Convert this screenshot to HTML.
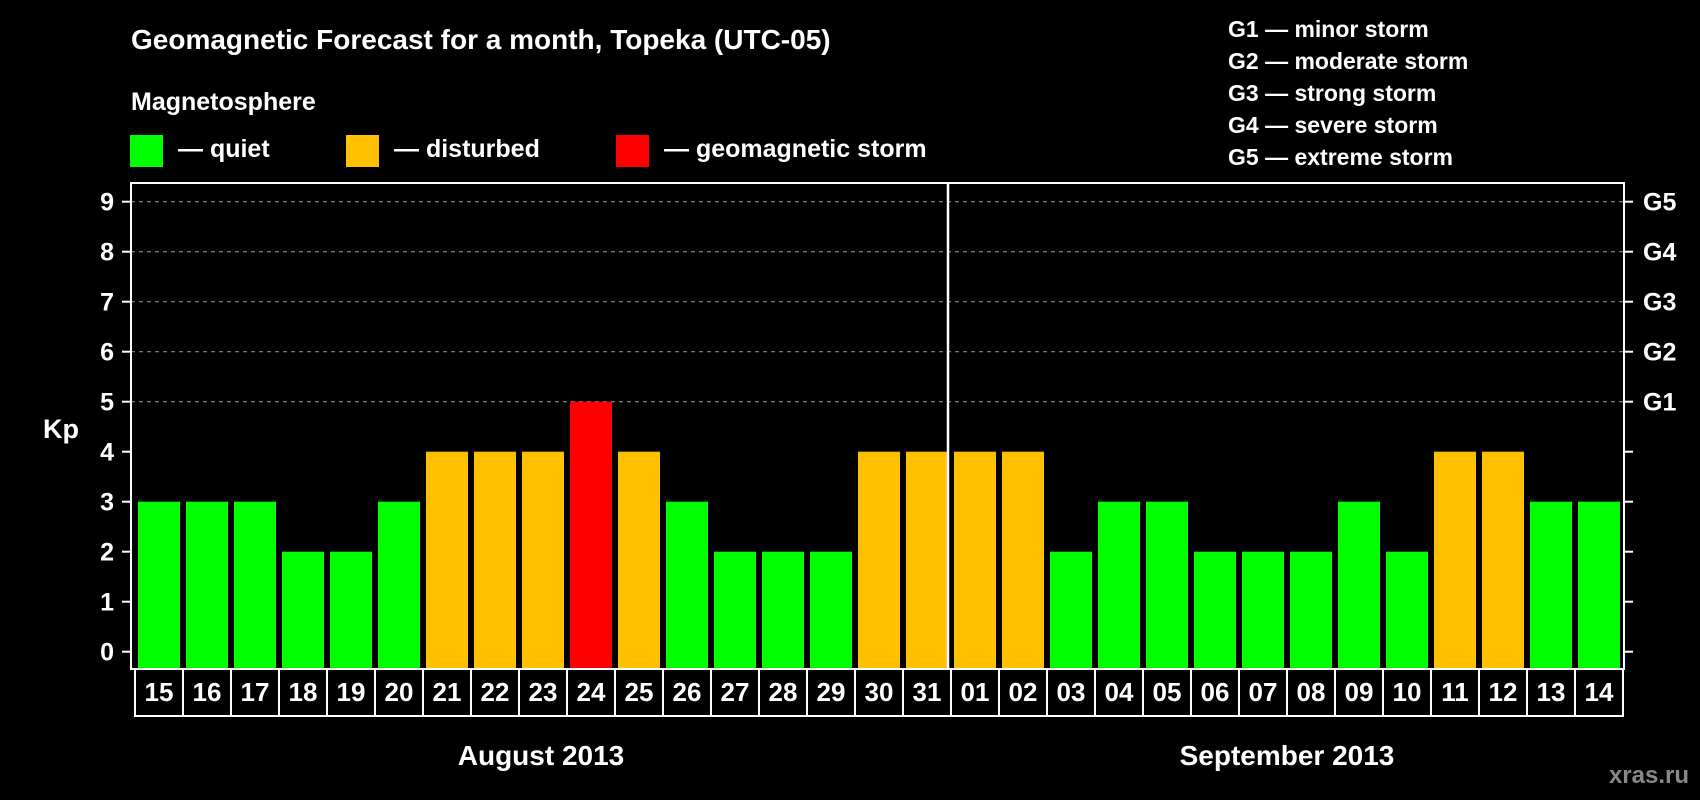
<!DOCTYPE html>
<html><head><meta charset="utf-8"><style>
html,body{margin:0;padding:0;background:#000;}
svg{display:block;font-family:"Liberation Sans",Arial,sans-serif;font-weight:bold;}
</style></head><body>
<svg id="chart" width="1700" height="800" viewBox="0 0 1700 800" xmlns="http://www.w3.org/2000/svg">
<rect x="0" y="0" width="1700" height="800" fill="#000"/>
<text x="131" y="49" font-size="28" fill="#fff">Geomagnetic Forecast for a month, Topeka (UTC-05)</text>
<text x="131" y="110" font-size="25" fill="#fff">Magnetosphere</text>
<g><rect x="130" y="135" width="33" height="32" fill="#00ff00"/><text x="178" y="157" font-size="25" fill="#fff">— quiet</text></g>
<g><rect x="346" y="135" width="33" height="32" fill="#ffc000"/><text x="394" y="157" font-size="25" fill="#fff">— disturbed</text></g>
<g><rect x="616" y="135" width="33" height="32" fill="#ff0000"/><text x="664" y="157" font-size="25" fill="#fff">— geomagnetic storm</text></g>
<g font-size="23" fill="#fff">
<text x="1228" y="37">G1 — minor storm</text>
<text x="1228" y="69">G2 — moderate storm</text>
<text x="1228" y="101">G3 — strong storm</text>
<text x="1228" y="133">G4 — severe storm</text>
<text x="1228" y="165">G5 — extreme storm</text>
</g>
<text x="43" y="438" font-size="27" fill="#fff">Kp</text>
<g id="grid"></g><g id="bars"></g><g id="axes"></g>
<text x="541" y="765" font-size="28" fill="#fff" text-anchor="middle">August 2013</text>
<text x="1287" y="765" font-size="28" fill="#fff" text-anchor="middle">September 2013</text>
<text x="1689" y="783" font-size="24" fill="#888" text-anchor="end">xras.ru</text>
</svg>
<script>
const days = ["15","16","17","18","19","20","21","22","23","24","25","26","27","28","29","30","31","01","02","03","04","05","06","07","08","09","10","11","12","13","14"];
const kpValues = [3,3,3,2,2,3,4,4,4,5,4,3,2,2,2,4,4,4,4,2,3,3,2,2,2,3,2,4,4,3,3];
const yTicks = [0,1,2,3,4,5,6,7,8,9];
const gLabels = ["G1","G2","G3","G4","G5"];
const gLevels = [5,6,7,8,9];
const monthBreak = 17;

const NS="http://www.w3.org/2000/svg";
const L=131,R=1624,T=183,B=669,X0=135,SW=48;
function yS(v){return 651.7-50*v;}
function xS(i){return X0+SW*i;}
function mk(tag,attrs,parent){const e=document.createElementNS(NS,tag);for(const k in attrs)e.setAttribute(k,attrs[k]);parent.appendChild(e);return e;}
const grid=document.getElementById('grid'),bars=document.getElementById('bars'),axes=document.getElementById('axes');
gLevels.forEach((v,i)=>{
  const ln=mk('line',{x1:L,x2:R,y1:yS(v),y2:yS(v),stroke:'#888','stroke-width':1.2,'stroke-dasharray':'4,4'},grid);
  
  
  const t=mk('text',{x:1643,y:yS(v)+9,'font-size':25,fill:'#fff'},axes);t.textContent=gLabels[i];
  
  
});
kpValues.forEach((v,i)=>{
  const c=v>=5?'#ff0000':(v>=4?'#ffc000':'#00ff00');
  const r=mk('rect',{x:xS(i)+3,y:yS(v),width:SW-6,height:B-yS(v),fill:c},bars);
  
  
  const cell=mk('rect',{x:xS(i),y:B,width:SW,height:47,fill:'none',stroke:'#fff','stroke-width':2},axes);
  
  
  const t=mk('text',{x:xS(i)+SW/2,y:701,'font-size':26,fill:'#fff','text-anchor':'middle'},axes);t.textContent=days[i];
  
  
});
const fr=mk('rect',{x:L,y:T,width:R-L,height:B-T,fill:'none',stroke:'#fff','stroke-width':2},axes);


const sep=mk('line',{x1:xS(monthBreak)-3,x2:xS(monthBreak)-3,y1:T,y2:B,stroke:'#fff','stroke-width':2.5},axes);


yTicks.forEach(v=>{
  mk('line',{x1:122,x2:L,y1:yS(v),y2:yS(v),stroke:'#fff','stroke-width':2},axes);
  mk('line',{x1:R,x2:1633,y1:yS(v),y2:yS(v),stroke:'#fff','stroke-width':2},axes);
  const t=mk('text',{x:114,y:yS(v)+9,'font-size':25,fill:'#fff','text-anchor':'end'},axes);t.textContent=v;
  
  
});
</script>
</body></html>
